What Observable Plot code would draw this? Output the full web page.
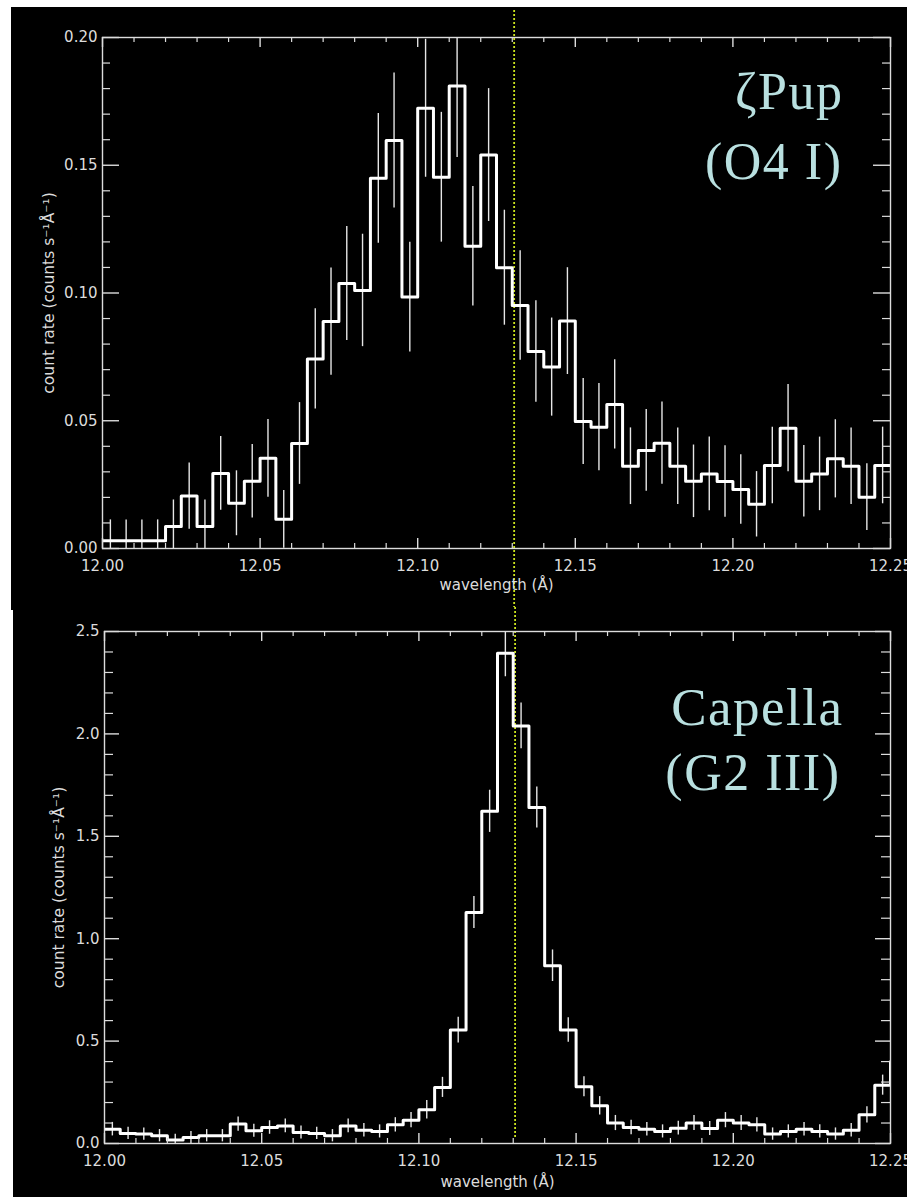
<!DOCTYPE html>
<html><head><meta charset="utf-8">
<script src="https://cdn.jsdelivr.net/npm/d3@7"></script>
<script src="https://cdn.jsdelivr.net/npm/@observablehq/plot@0.6"></script>
<style>
html,body{margin:0;padding:0;background:#fff;width:907px;height:1197px;overflow:hidden}
#bg1{position:absolute;left:11px;top:7px;width:896px;height:603px;background:#000}
#bg2{position:absolute;left:13px;top:607px;width:894px;height:590px;background:#000}
#p1{position:absolute;left:11px;top:7px;width:896px;height:600px}
#p2{position:absolute;left:13px;top:607px;width:894px;height:590px}
</style></head><body>
<div id="bg1"></div><div id="bg2"></div>
<div id="p1"></div><div id="p2"></div>
<script>
// ---- data ----
const binStart = [12.000,12.005,12.010,12.015,12.020,12.025,12.030,12.035,12.040,12.045,
12.050,12.055,12.060,12.065,12.070,12.075,12.080,12.085,12.090,12.095,
12.100,12.105,12.110,12.115,12.120,12.125,12.130,12.135,12.140,12.145,
12.150,12.155,12.160,12.165,12.170,12.175,12.180,12.185,12.190,12.195,
12.200,12.205,12.210,12.215,12.220,12.225,12.230,12.235,12.240,12.245,12.250];
const binWidth = 0.005;

const zetaPupRate = [0.003,0.003,0.003,0.003,0.0086,0.0205,0.0086,0.0294,0.0177,0.0263,
0.0353,0.0114,0.0411,0.0742,0.0888,0.1037,0.101,0.1449,0.1597,0.0984,
0.1723,0.1453,0.181,0.1183,0.154,0.1099,0.0951,0.0771,0.071,0.089,
0.0497,0.0475,0.0564,0.0322,0.0384,0.0412,0.0322,0.0263,0.0292,0.0262,
0.0231,0.0173,0.0325,0.0471,0.0263,0.0292,0.0351,0.0322,0.0201,0.0325];
const zetaPupErr = [0.0082,0.0082,0.0082,0.0082,0.0104,0.013,0.0104,0.0144,0.0127,0.0144,
0.0152,0.0113,0.016,0.0196,0.021,0.0223,0.022,0.0254,0.0264,0.0215,
0.027,0.0254,0.028,0.0234,0.026,0.0225,0.0214,0.0199,0.0192,0.0209,
0.0168,0.0171,0.0175,0.015,0.016,0.0161,0.015,0.0142,0.0144,0.014,
0.0136,0.0128,0.015,0.0171,0.014,0.0144,0.0153,0.015,0.0131,0.015];

const capellaRate = [0.070,0.049,0.046,0.038,0.017,0.029,0.038,0.038,0.095,0.062,
0.078,0.086,0.054,0.049,0.038,0.086,0.065,0.059,0.091,0.114,
0.165,0.274,0.554,1.128,1.622,2.394,2.039,1.641,0.868,0.554,
0.277,0.184,0.100,0.078,0.070,0.059,0.075,0.100,0.073,0.114,
0.100,0.091,0.046,0.059,0.070,0.059,0.046,0.065,0.140,0.285,0.40];
const capellaErr = [0.033,0.03,0.03,0.03,0.028,0.03,0.03,0.03,0.035,0.032,
0.033,0.034,0.032,0.03,0.03,0.034,0.033,0.032,0.035,0.037,
0.045,0.049,0.063,0.078,0.103,0.115,0.112,0.10,0.077,0.06,
0.049,0.045,0.037,0.035,0.033,0.032,0.034,0.037,0.034,0.037,
0.037,0.035,0.03,0.032,0.033,0.032,0.03,0.033,0.04,0.049];

const xMajor = [12.00,12.05,12.10,12.15,12.20,12.25];
const xMinor = [12.01,12.02,12.03,12.04,12.06,12.07,12.08,12.09,12.11,12.12,12.13,12.14,
12.16,12.17,12.18,12.19,12.21,12.22,12.23,12.24];
const pupYMajor = [0,0.05,0.10,0.15,0.20];
const pupYMinor = [0.01,0.02,0.03,0.04,0.06,0.07,0.08,0.09,0.11,0.12,0.13,0.14,0.16,0.17,0.18,0.19];
const capYMajor = [0,0.5,1.0,1.5,2.0,2.5];
const capYMinor = [0.1,0.2,0.3,0.4,0.6,0.7,0.8,0.9,1.1,1.2,1.3,1.4,1.6,1.7,1.8,1.9,2.1,2.2,2.3,2.4];
const restWavelength = [12.1306];

const xLabel = "wavelength (Å)";
const yLabel = "count rate (counts s⁻¹Å⁻¹)";
const pupLabels = ["ζPup", "(O4 I)"];
const capLabels = ["Capella", "(G2 III)"];

// ---- drawing ----
const AX = "#dcdcdc";
const LBL = "#b9e0e0";
const SANS = "DejaVu Sans, sans-serif";
const SERIF = "Liberation Serif, DejaVu Serif, serif";

function panel(o) {
  const W = o.width - o.ml - o.mr, H = o.height - o.mt - o.mb;
  const n = o.nBins;
  const errRows = d3.range(n).map(i => ({
    x: binStart[i] + binWidth / 2,
    lo: o.rate[i] - o.err[i],
    hi: o.rate[i] + o.err[i]
  }));
  const pts = o.rate.map((v, i) => ({x: binStart[i], y: v}));
  if (o.rate.length === n) pts.push({x: binStart[n], y: o.rate[n - 1]});
  const marks = [
    Plot.ruleX(restWavelength, {stroke: "#cbe31e", strokeWidth: 1.8, strokeDasharray: "2,2", insetTop: o.dotTop, insetBottom: o.dotBottom}),
    Plot.ruleX(errRows, {x: "x", y1: "lo", y2: "hi", stroke: "#e6e6e6", strokeWidth: 1.4, clip: true}),
    Plot.line(pts, {x: "x", y: "y", curve: "step-after", stroke: "#ffffff", strokeWidth: 3, clip: true}),
    Plot.frame({stroke: AX, strokeWidth: 1.4}),
    Plot.ruleX(xMajor, {stroke: AX, strokeWidth: 1.4, insetTop: H - 10}),
    Plot.ruleX(xMinor, {stroke: AX, strokeWidth: 1.2, insetTop: H - 5}),
    Plot.ruleX(xMajor, {stroke: AX, strokeWidth: 1.4, insetBottom: H - 10}),
    Plot.ruleX(xMinor, {stroke: AX, strokeWidth: 1.2, insetBottom: H - 5}),
    Plot.ruleY(o.yMajor, {stroke: AX, strokeWidth: 1.4, insetRight: W - o.yMajLen}),
    Plot.ruleY(o.yMinor, {stroke: AX, strokeWidth: 1.2, insetRight: W - o.yMinLen}),
    Plot.ruleY(o.yMajor, {stroke: AX, strokeWidth: 1.4, insetLeft: W - o.yMajLen}),
    Plot.ruleY(o.yMinor, {stroke: AX, strokeWidth: 1.2, insetLeft: W - o.yMinLen}),
    Plot.axisX({ticks: xMajor, tickSize: 0, tickPadding: 12, tickFormat: d3.format(".2f"), label: null, fill: AX, fontSize: 15, fontFamily: SANS}),
    Plot.axisY({ticks: o.yMajor, tickSize: 0, tickPadding: 5, tickFormat: d3.format(o.yFmt), label: null, fill: AX, fontSize: 15, fontFamily: SANS}),
    Plot.text([xLabel], {frameAnchor: "bottom", textAnchor: "middle", lineAnchor: "bottom", dy: o.xLabDy, fill: AX, fontSize: 15, fontFamily: SANS}),
    Plot.text([yLabel], {frameAnchor: "left", textAnchor: "middle", lineAnchor: "bottom", rotate: -90, dx: o.yLabDx, fill: AX, fontSize: 15.5, fontFamily: SANS}),
    Plot.text([o.labels[0]], {frameAnchor: "top-right", textAnchor: "end", lineAnchor: "bottom", dx: o.l1dx, dy: o.l1dy, fill: LBL, fontSize: o.l1size, fontFamily: SERIF}),
    Plot.text([o.labels[1]], {frameAnchor: "top-right", textAnchor: "end", lineAnchor: "bottom", dx: o.l2dx, dy: o.l2dy, fill: LBL, fontSize: o.l2size, fontFamily: SERIF})
  ];
  const svg = Plot.plot({
    width: o.width, height: o.height,
    marginLeft: o.ml, marginRight: o.mr, marginTop: o.mt, marginBottom: o.mb,
    x: {domain: [12.0, 12.25]},
    y: {domain: o.yDomain},
    style: {background: "black", color: AX, fontFamily: SANS, fontSize: "15px", overflow: "visible"},
    marks
  });
  svg.querySelectorAll('g[font-family^="Liberation Serif"]').forEach(g => g.setAttribute("letter-spacing", "1.5"));
  return svg;
}

document.getElementById("p1").appendChild(panel({
  width: 896, height: 600, ml: 91, mr: 17, mt: 30, mb: 59,
  yDomain: [0, 0.2], yMajor: pupYMajor, yMinor: pupYMinor, yFmt: ".2f",
  yMajLen: 17, yMinLen: 8,
  rate: zetaPupRate, err: zetaPupErr, nBins: 50,
  dotTop: -27, dotBottom: -59,
  xLabDy: 41, yLabDx: -49,
  labels: pupLabels, l1dx: -47, l1dy: 71, l1size: 52, l2dx: -48, l2dy: 141, l2size: 52
}));

document.getElementById("p2").appendChild(panel({
  width: 894, height: 590, ml: 91, mr: 17, mt: 24, mb: 54,
  yDomain: [0, 2.5], yMajor: capYMajor, yMinor: capYMinor, yFmt: ".1f",
  yMajLen: 15, yMinLen: 9,
  rate: capellaRate, err: capellaErr, nBins: 50,
  dotTop: -24, dotBottom: 4,
  xLabDy: 43, yLabDx: -41,
  labels: capLabels, l1dx: -47, l1dy: 93, l1size: 53, l2dx: -50, l2dy: 158, l2size: 52
}));
</script>
</body></html>
